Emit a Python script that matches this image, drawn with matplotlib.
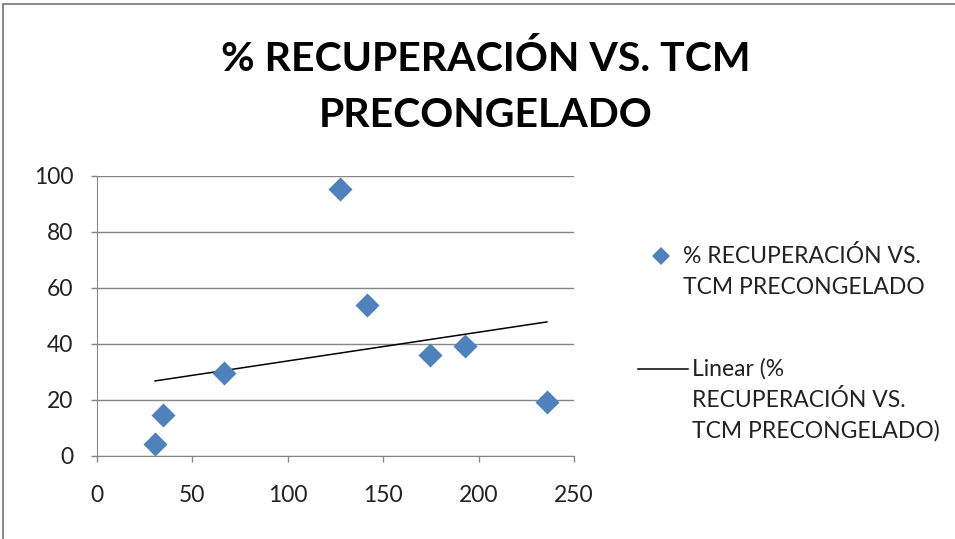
import numpy as np
import matplotlib.pyplot as plt
from matplotlib.lines import Line2D
from matplotlib.patches import Rectangle

# values
tcm = [30.4, 34.6, 66.6, 127.4, 141.5, 174.5, 192.9, 235.8]
recup = [4.3, 14.6, 29.6, 95.4, 53.9, 36.1, 39.3, 19.3]
xticks = [0, 50, 100, 150, 200, 250]
yticks = [0, 20, 40, 60, 80, 100]
title = '% RECUPERACIÓN VS. TCM\nPRECONGELADO'
series_label = '% RECUPERACIÓN VS.\nTCM PRECONGELADO'
trend_label = 'Linear (%\nRECUPERACIÓN VS.\nTCM PRECONGELADO)'

plt.rcParams['font.family'] = ['Lato', 'DejaVu Sans']
grey = '#868686'
blue = '#4F81BD'

fig = plt.figure(figsize=(9.55, 5.39), dpi=100)
# chart frame, only top and left edges show in the screenshot
fig.add_artist(Rectangle((3/955, -0.1), 1.2, 1 - 4/539 + 0.1, transform=fig.transFigure,
                         fill=False, edgecolor='#8c8c8c', lw=1.5))

ax = fig.add_axes([97/955, 1 - 456/539, 477/955, 280/539])
ax.scatter(tcm, recup, marker='D', s=150, color=blue, zorder=3, linewidths=0)

# linear trend line over the data range
k, b = np.polyfit(tcm, recup, 1)
xs = np.array([min(tcm), max(tcm)])
ax.plot(xs, k*xs + b, color='black', lw=1.1, zorder=2)

ax.set_xlim(0, 250)
ax.set_ylim(0, 100)
ax.set_xticks(xticks)
ax.set_yticks(yticks)
ax.yaxis.grid(True, color=grey, lw=1)
ax.set_axisbelow(True)
for s in ['top', 'right']:
    ax.spines[s].set_visible(False)
for s in ['left', 'bottom']:
    ax.spines[s].set_color(grey)
ax.tick_params(colors=grey, length=4, width=1, labelsize=16.5, labelcolor='#222222')
ax.tick_params(axis='x', pad=17)
ax.tick_params(axis='y', pad=13)

fig.text(0.509, 1 - 87/539, title, ha='center', va='center', fontsize=29.5,
         fontweight='bold', linespacing=1.66)

# legend drawn by hand so the keys sit on the first text line
ls = 31/539
def key_text(y0, txt, x0):
    for i, line in enumerate(txt.split('\n')):
        fig.text(x0, y0 - i*ls, line, ha='left', va='center', fontsize=16.5, color='#222222')

y1 = 1 - 256/539
fig.add_artist(Line2D([661/955], [y1], marker='D', ls='none', color=blue, markersize=9, mew=0))
key_text(y1, series_label, 683/955)
y2 = 1 - 369/539
fig.add_artist(Line2D([638/955, 688/955], [y2, y2], color='black', lw=1.1))
key_text(y2, trend_label, 692/955)

fig.savefig('out.png', dpi=100)
